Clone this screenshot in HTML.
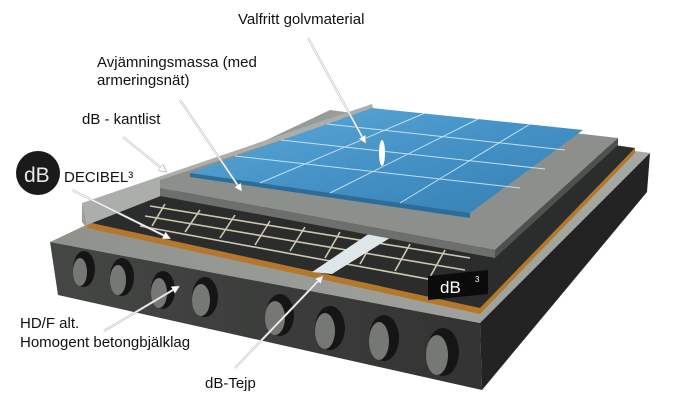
<!DOCTYPE html>
<html><head><meta charset="utf-8"><style>
html,body{margin:0;padding:0;background:#fff;}
svg{display:block;}
text{font-family:"Liberation Sans",sans-serif;fill:#111;}
</style></head><body>
<svg width="700" height="412" viewBox="0 0 700 412" xmlns="http://www.w3.org/2000/svg">
<defs>
<linearGradient id="front" x1="0" y1="0" x2="1" y2="0"><stop offset="0" stop-color="#454745"/><stop offset="1" stop-color="#323332"/></linearGradient>
<linearGradient id="top" x1="0" y1="0" x2="1" y2="0"><stop offset="0" stop-color="#8e918c"/><stop offset="1" stop-color="#a6a9a3"/></linearGradient>
<linearGradient id="tile" x1="0" y1="0" x2="1" y2="1"><stop offset="0" stop-color="#5eaadb"/><stop offset="0.5" stop-color="#4592c6"/><stop offset="1" stop-color="#347fb2"/></linearGradient>
<marker id="ah" markerWidth="8" markerHeight="8" refX="6" refY="4" orient="auto" markerUnits="userSpaceOnUse"><path d="M0,0 L8,4 L0,8 Z" fill="#fff" stroke="#999" stroke-width="0.6"/></marker>
</defs>
<!-- slab -->
<polygon points="50,242 480,323 650,153 330,110" fill="url(#top)"/>
<polygon points="50,242 480,323 482,390 58,295" fill="url(#front)"/>
<polygon points="480,323 650,153 647,192 482,390" fill="#222322"/>
<g fill="#151515">
<ellipse cx="84" cy="269" rx="11" ry="18"/><ellipse cx="122" cy="277" rx="12" ry="19"/>
<ellipse cx="163" cy="290" rx="12" ry="19"/><ellipse cx="205" cy="297" rx="13" ry="20"/>
<ellipse cx="280" cy="315" rx="14" ry="21"/><ellipse cx="330" cy="328" rx="15" ry="22"/>
<ellipse cx="384" cy="338" rx="15" ry="23"/><ellipse cx="443" cy="352" rx="16" ry="24"/>
</g>
<g fill="#767874">
<ellipse cx="80" cy="272" rx="7" ry="14"/><ellipse cx="118" cy="280" rx="8" ry="15"/>
<ellipse cx="159" cy="293" rx="8" ry="15"/><ellipse cx="201" cy="300" rx="9" ry="16"/>
<ellipse cx="275" cy="318" rx="10" ry="17"/><ellipse cx="325" cy="331" rx="10" ry="18"/>
<ellipse cx="379" cy="341" rx="10" ry="19"/><ellipse cx="437" cy="355" rx="11" ry="20"/>
</g>
<!-- cork -->
<polygon points="87,222 480,308 635,148 635,153 480,314 87,228" fill="#b5772a"/>
<!-- mat -->
<polygon points="87,222 480,308 635,148 372,110" fill="#2b2c2c"/>
<!-- mesh -->
<g stroke="#cfc8b0" stroke-width="1.6" fill="none">
<line x1="150" y1="206" x2="470" y2="258"/><line x1="145" y1="216" x2="465" y2="270"/><line x1="140" y1="226" x2="455" y2="284"/>
<line x1="165" y1="204" x2="152" y2="226"/><line x1="200" y1="210" x2="185" y2="232"/><line x1="235" y1="215" x2="220" y2="238"/>
<line x1="270" y1="221" x2="255" y2="245"/><line x1="305" y1="227" x2="290" y2="251"/><line x1="340" y1="232" x2="325" y2="258"/>
<line x1="375" y1="238" x2="360" y2="264"/><line x1="410" y1="244" x2="395" y2="271"/><line x1="445" y1="250" x2="430" y2="277"/>
</g>
<!-- tape -->
<polygon points="312,272 332,274 393,236 370,233" fill="#dfe6ea"/>
<!-- dB3 logo -->
<polygon points="428,276 488,270 488,294 428,300" fill="#0b0b0b"/>
<text x="440" y="293" font-size="17" style="fill:#fff">dB</text><text x="475" y="282" font-size="8" style="fill:#fff">3</text>
<!-- kantlist wall -->
<polygon points="82,203 372,104 374,112 87,225" fill="#acaeac"/>
<polygon points="82,203 87,225 87,228 82,222" fill="#9a9c9a"/>
<!-- screed -->
<polygon points="160,188 495,250 618,138 372,110 160,180" fill="#8d8f8d"/>
<polygon points="160,188 495,250 495,258 160,196" fill="#6d6f6d"/>
<polygon points="495,250 618,138 618,145 495,258" fill="#4f514f"/>
<!-- tiles -->
<polygon points="190,173 470,213 583,130 372,108" fill="url(#tile)"/>
<polygon points="190,173 470,213 470,218 190,177" fill="#2a6d9a"/>
<g stroke="#d6ecf8" stroke-width="1" fill="none" opacity="0.85">
<line x1="235" y1="156" x2="520" y2="188"/><line x1="281" y1="140" x2="545" y2="169"/><line x1="327" y1="124" x2="565" y2="150"/>
<line x1="260" y1="183" x2="425" y2="113"/><line x1="330" y1="193" x2="478" y2="119"/><line x1="400" y1="203" x2="530" y2="124"/>
</g>
<ellipse cx="382" cy="153" rx="3" ry="13" fill="#fff"/>
<!-- DECIBEL logo -->
<circle cx="38" cy="173" r="22" fill="#1a1a1a"/>
<text x="24" y="182" font-size="21" style="fill:#e8e8e8">dB</text>
<text x="64" y="182" font-size="15">DECIBEL³</text>
<!-- labels -->
<text x="238" y="24" font-size="15">Valfritt golvmaterial</text>
<text x="97" y="67" font-size="15">Avjämningsmassa (med</text>
<text x="97" y="85" font-size="15">armeringsnät)</text>
<text x="82" y="124" font-size="15">dB - kantlist</text>
<text x="20" y="328" font-size="15">HD/F alt.</text>
<text x="20" y="347" font-size="15">Homogent betongbjälklag</text>
<text x="205" y="388" font-size="15">dB-Tejp</text>
<!-- arrows -->
<g stroke="#bbb" stroke-width="2.2" fill="none">
<line x1="308" y1="38" x2="365" y2="142"/><line x1="180" y1="100" x2="241" y2="190"/>
<line x1="123" y1="137" x2="165" y2="171"/><line x1="72" y1="190" x2="169" y2="238"/>
<line x1="104" y1="331" x2="178" y2="287"/><line x1="235" y1="368" x2="322" y2="277"/>
</g>
<g stroke="#fff" stroke-width="1" fill="none">
<line x1="308" y1="38" x2="365" y2="142" marker-end="url(#ah)"/><line x1="180" y1="100" x2="241" y2="190" marker-end="url(#ah)"/>
<line x1="123" y1="137" x2="165" y2="171" marker-end="url(#ah)"/><line x1="72" y1="190" x2="169" y2="238" marker-end="url(#ah)"/>
<line x1="104" y1="331" x2="178" y2="287" marker-end="url(#ah)"/><line x1="235" y1="368" x2="322" y2="277" marker-end="url(#ah)"/>
</g>
</svg>
</body></html>
